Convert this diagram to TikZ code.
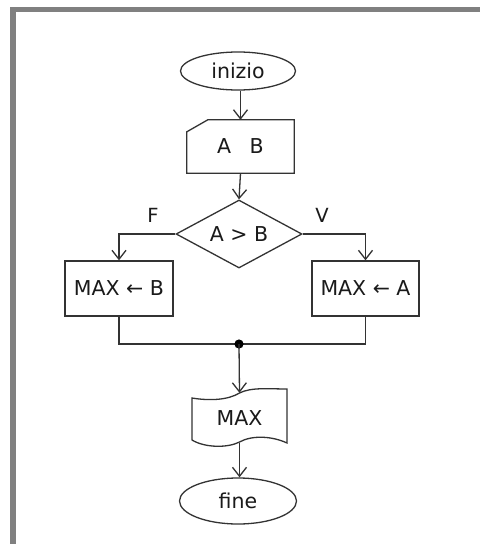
\documentclass[tikz,border=0pt]{standalone}
\usepackage{fontspec}
\setmainfont{DejaVu Sans}
\usetikzlibrary{shapes.geometric,arrows.meta}
\definecolor{ln}{HTML}{333333}
\definecolor{txt}{HTML}{1A1A1A}
\definecolor{frame}{HTML}{808080}
\begin{document}
\begin{tikzpicture}[x=1pt,y=-1pt,
  every node/.style={font=\fontsize{20.5}{24}\selectfont, text=txt, inner sep=0pt},
  conn/.style={draw=ln, line width=1.3pt},
  arr/.style={conn, -{Straight Barb[length=9pt,width=14pt,line width=1.3pt]}},
  term/.style={ellipse, draw=ln, line width=1.3pt},
  procbox/.style={rectangle, draw=ln, line width=1.3pt},
  decis/.style={diamond, draw=ln, line width=1.3pt, aspect=1.85},
  lbl/.style={font=\fontsize{19.5}{22}\selectfont}
]
\useasboundingbox (0,0) rectangle (480,544);
\fill[white] (0,0) rectangle (480,544);
\draw[frame, line width=5.5pt] (13,544) -- (13,9.5) -- (480,9.5);

% nodes
\node[term, minimum width=115, minimum height=38] (inizio) at (238,71) {inizio};
\node[minimum width=107, minimum height=53] (inp) at (240.5,146.5) {A\hspace{0.9em}B};
\draw[conn] (inp.south west) -- (inp.south east) -- (inp.north east)
  -- ([xshift=21pt]inp.north west) -- ([yshift=-12pt]inp.north west) -- cycle;
\node[decis, minimum width=126, minimum height=68] (dia) at (239,234) {A > B};
\node[procbox, minimum width=108, minimum height=55] (lb) at (119,288.5) {MAX ← B};
\node[procbox, minimum width=107, minimum height=55] (rb) at (365.5,288.5) {MAX ← A};
\node[lbl] (F) at (153,215) {F};
\node[lbl] (V) at (322,215) {V};
\coordinate (m) at (239,344);
\node[minimum width=95, minimum height=50] (out) at (239.5,418) {MAX};
\draw[conn] (192,398) .. controls (210,401) and (228,400) .. (239.5,393)
  .. controls (251,387) and (270,389) .. (287,389)
  -- (287,443)
  .. controls (272,436) and (252,435) .. (239.5,442)
  .. controls (228,448) and (205,448) .. (192,440) -- cycle;
\node[term, minimum width=117, minimum height=46] (fine) at (238,501) {fine};

% connectors
\draw[arr] (inizio.south -| inp.north) -- (inp.north);
\draw[arr] (inp.south) -- (dia.north);
\draw[arr] (dia.west) -| (lb.north);
\draw[arr] (dia.east) -| (rb.north);
\draw[conn] (lb.south) |- (m);
\draw[conn] (rb.south) |- (m);
\fill[black] (m) circle (4.6pt);
\draw[arr] (m) -- (out.north);
\draw[arr] (out.south) -- (fine.north -| out.south);
\end{tikzpicture}
\end{document}
